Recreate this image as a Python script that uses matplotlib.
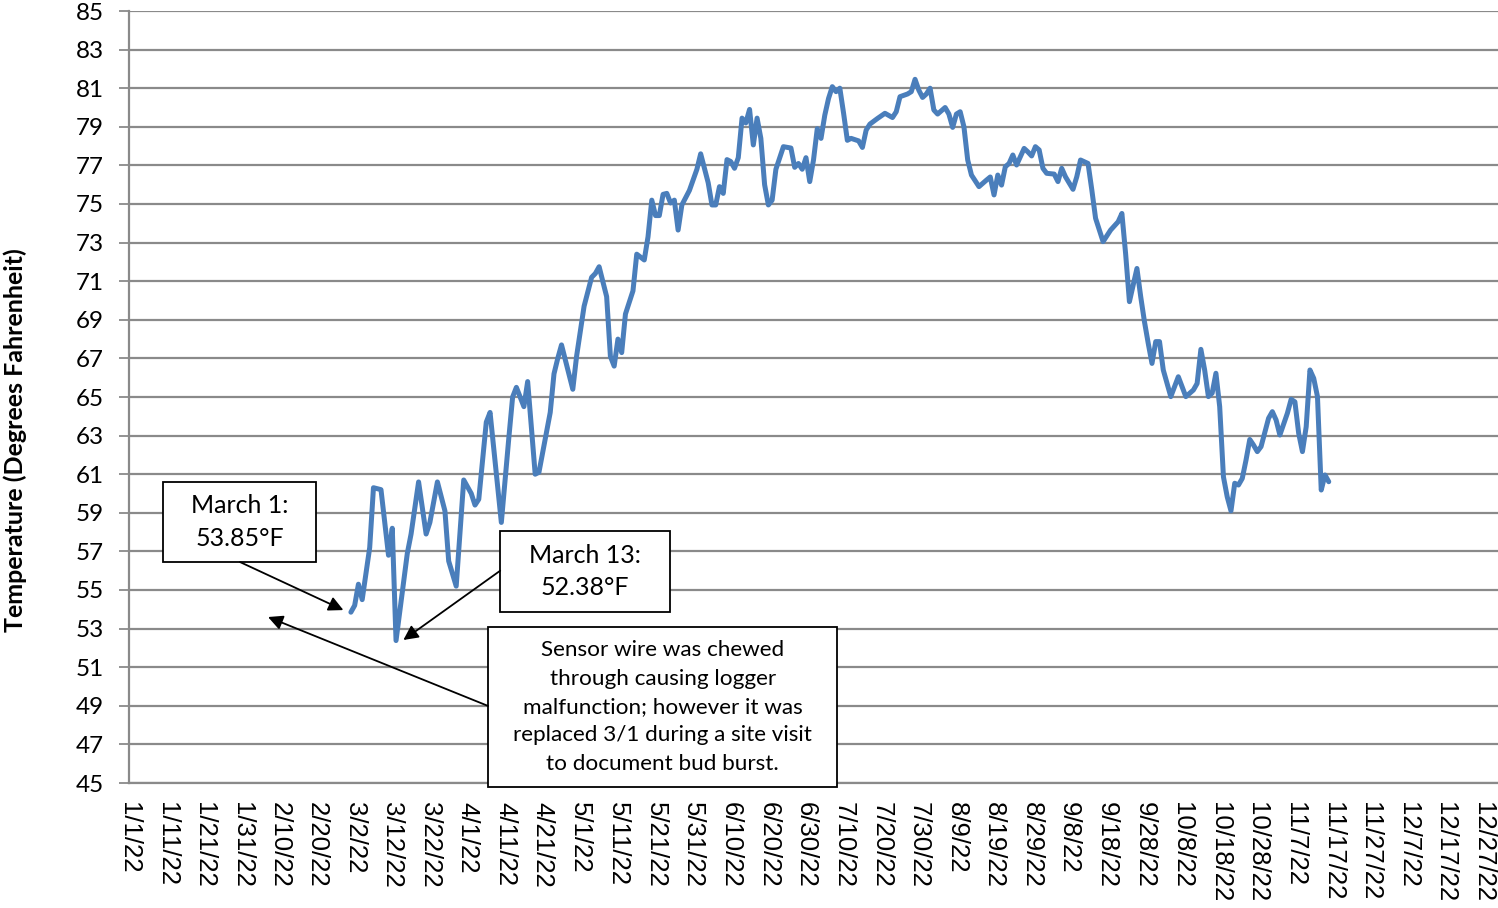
import matplotlib
matplotlib.use("Agg")
import matplotlib.pyplot as plt
import matplotlib.dates as mdates
from matplotlib.patches import Rectangle
import pandas as pd

# Daily mean water temperature, indexed by day of year (0 = Jan 1, 2022)
day_of_year = [59, 60, 61, 62, 64, 65, 67, 69, 70, 71, 74, 75, 77, 79, 80, 82, 84, 85, 87, 89,
               91, 92, 93, 95, 96, 98, 99, 101, 102, 103, 105, 106, 108, 109, 112, 113, 114, 115, 118, 119,
               121, 123, 124, 125, 127, 128, 129, 130, 131, 132, 134, 135, 137, 138, 139, 140, 141, 142, 143, 144,
               145, 146, 147, 149, 151, 152, 154, 155, 156, 157, 158, 159, 160, 161, 162, 163, 164, 165, 166, 167,
               168, 169, 170, 171, 172, 174, 176, 177, 178, 179, 180, 181, 182, 183, 184, 185, 186, 187, 188, 189,
               190, 191, 192, 194, 195, 196, 197, 199, 201, 203, 204, 205, 207, 208, 209, 210, 211, 212, 213, 214,
               215, 217, 218, 219, 220, 221, 222, 223, 224, 226, 228, 229, 230, 231, 232, 233, 234, 235, 236, 238,
               239, 240, 241, 242, 243, 244, 246, 247, 248, 249, 251, 252, 253, 255, 256, 257, 259, 261, 263, 264,
               265, 266, 268, 269, 270, 271, 272, 273, 274, 275, 277, 278, 279, 281, 283, 284, 285, 286, 287, 288,
               289, 290, 291, 292, 293, 294, 295, 296, 297, 298, 299, 300, 301, 303, 304, 305, 306, 308, 309, 310,
               311, 312, 313, 314, 315, 316, 317, 318, 319]
temp_f = [53.85, 54.2, 55.3, 54.5, 57.2, 60.3, 60.2, 56.8, 58.2, 52.38, 56.9, 57.9, 60.6, 57.9, 58.5, 60.6, 59.1, 56.5, 55.2, 60.7,
          60.0, 59.4, 59.7, 63.7, 64.2, 60.4, 58.5, 62.9, 65.0, 65.5, 64.5, 65.8, 61.0, 61.1, 64.2, 66.2, 67.0, 67.7, 65.4, 67.1,
          69.7, 71.2, 71.4, 71.75, 70.2, 67.1, 66.6, 68.0, 67.3, 69.3, 70.5, 72.4, 72.1, 73.3, 75.2, 74.4, 74.4, 75.5, 75.55, 75.05,
          75.2, 73.65, 74.95, 75.7, 76.8, 77.6, 76.1, 74.95, 74.95, 75.9, 75.55, 77.3, 77.2, 76.85, 77.4, 79.45, 79.2, 79.9, 78.06, 79.45,
          78.4, 76.0, 74.95, 75.2, 76.8, 77.97, 77.9, 76.9, 77.1, 76.8, 77.4, 76.16, 77.28, 78.9, 78.4, 79.6, 80.47, 81.08, 80.82, 81.0,
          79.7, 78.3, 78.4, 78.27, 77.93, 78.83, 79.14, 79.43, 79.7, 79.48, 79.78, 80.56, 80.7, 80.82, 81.46, 80.9, 80.52, 80.7, 81.0, 79.87,
          79.66, 80.0, 79.66, 78.97, 79.66, 79.78, 79.0, 77.28, 76.5, 75.9, 76.24, 76.4, 75.47, 76.5, 75.98, 76.93, 77.1, 77.54, 77.02, 77.88,
          77.7, 77.49, 77.97, 77.8, 76.85, 76.59, 76.55, 76.16, 76.85, 76.41, 75.76, 76.41, 77.28, 77.1, 75.73, 74.26, 73.05, 73.65, 74.08, 74.51,
          72.4, 69.94, 71.66, 70.2, 68.9, 67.78, 66.74, 67.87, 67.87, 66.4, 65.02, 65.53, 66.05, 65.02, 65.36, 65.7, 67.47, 66.4, 65.02, 65.2,
          66.23, 64.5, 60.86, 59.83, 59.1, 60.53, 60.44, 60.78, 61.73, 62.8, 62.51, 62.17, 62.43, 63.9, 64.24, 63.81, 63.03, 64.16, 64.88, 64.75,
          63.12, 62.17, 63.46, 66.4, 65.97, 65.02, 60.18, 60.96, 60.61]

y_ticks = list(range(45, 86, 2))
y_label = "Temperature (Degrees Fahrenheit)"
note_march1 = "March 1:\n53.85°F"
note_march13 = "March 13:\n52.38°F"
note_sensor = ("Sensor wire was chewed\nthrough causing logger\nmalfunction; however it was\n"
               "replaced 3/1 during a site visit\nto document bud burst.")

year_start = pd.Timestamp("2022-01-01")
dates = year_start + pd.to_timedelta(day_of_year, unit="D")
tick_dates = pd.date_range("2022-01-01", "2022-12-27", freq="10D")

W, H = 1498, 908
fig = plt.figure(figsize=(W / 100, H / 100), dpi=100)
ax = fig.add_axes([129 / W, 1 - 783 / H, (W - 129) / W, (783 - 11) / H])

body_font = "Lato"
grid_col = "#8a8a8a"

ax.plot(dates, temp_f, color="#4a7ebb", lw=3.6, solid_joinstyle="round", solid_capstyle="round", zorder=3)

ax.set_ylim(45, 85)
ax.set_xlim(mdates.date2num(year_start), mdates.date2num(pd.Timestamp("2022-12-31")))
ax.set_yticks(y_ticks)
ax.set_yticklabels([str(v) for v in y_ticks], fontsize=17.5, fontfamily=body_font)
ax.set_xticks(tick_dates)
ax.set_xticklabels([f"{d.month}/{d.day}/{d:%y}" for d in tick_dates], rotation=-90,
                   fontsize=18.5, fontfamily="Liberation Sans", va="top", ha="center")
ax.tick_params(axis="y", length=7, width=1.3, color=grid_col, pad=11)
ax.tick_params(axis="x", length=0, pad=14)
ax.grid(axis="y", color=grid_col, lw=1.6, zorder=0)
ax.set_axisbelow(True)
for side in ("top", "right"):
    ax.spines[side].set_visible(False)
for side in ("left", "bottom"):
    ax.spines[side].set_color(grid_col)
    ax.spines[side].set_linewidth(1.6)

fig.text(15 / W, 1 - 440 / H, y_label, rotation=90, ha="center", va="center",
         fontsize=18, fontweight="bold", fontfamily=body_font)


def d2x(day):
    return mdates.date2num(year_start + pd.Timedelta(days=day))


def callout(x0, x1, y0, y1, text, size, spacing):
    ax.add_patch(Rectangle((d2x(x0), y0), d2x(x1) - d2x(x0), y1 - y0, facecolor="white",
                           edgecolor="black", lw=1.3, zorder=5, clip_on=False))
    ax.text(d2x((x0 + x1) / 2), (y0 + y1) / 2, text, ha="center", va="center", fontsize=size,
            fontfamily=body_font, linespacing=spacing, zorder=6, clip_on=False)


def arrow(tail, tip):
    ax.annotate("", xy=(d2x(tip[0]), tip[1]), xytext=(d2x(tail[0]), tail[1]),
                arrowprops=dict(arrowstyle="-|>", color="black", lw=1.3, mutation_scale=22,
                                shrinkA=0, shrinkB=0), zorder=7, annotation_clip=False)


callout(9.04, 49.7, 56.45, 60.6, note_march1, 18, 1.48)
callout(98.7, 143.9, 53.86, 58.06, note_march13, 18, 1.48)
callout(95.5, 188.3, 44.79, 53.08, note_sensor, 16.2, 1.52)

arrow((29.5, 56.45), (57.0, 53.96))
arrow((98.7, 56.0), (72.95, 52.41))
arrow((95.5, 48.99), (36.97, 53.6))

fig.savefig("out.png", dpi=100)
